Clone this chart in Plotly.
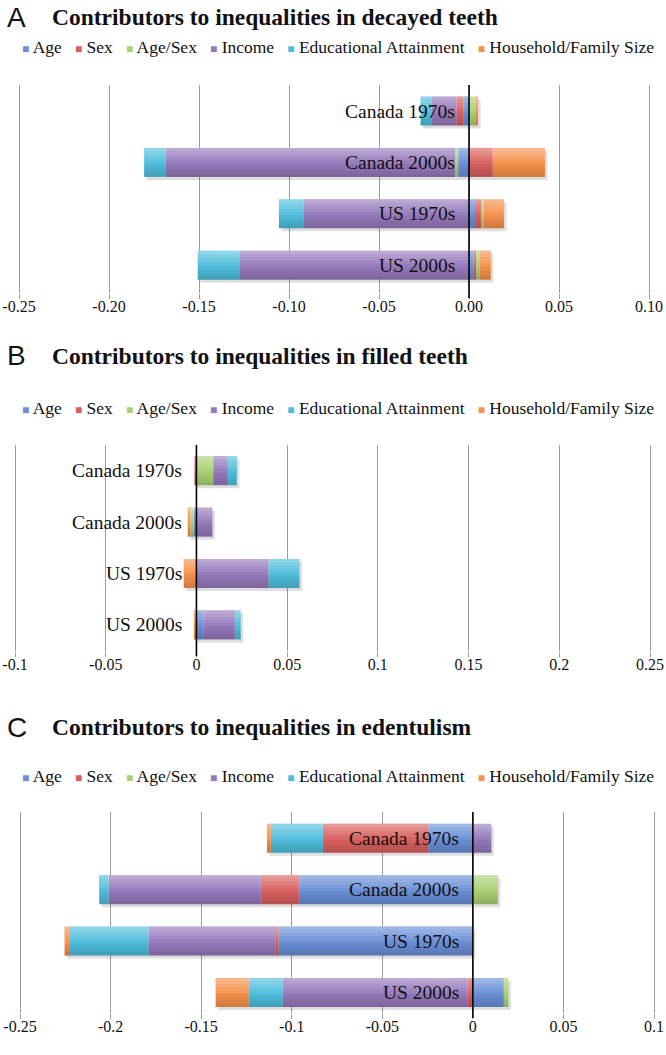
import plotly.graph_objects as go

# ---------------- data ----------------
categories = ["Canada 1970s", "Canada 2000s", "US 1970s", "US 2000s"]
series_names = ["Age", "Sex", "Age/Sex", "Income", "Educational Attainment", "Household/Family Size"]
series_colors = ["#6A8FD6", "#D9605E", "#A9D173", "#9579BB", "#4FBEDD", "#F6914C"]

# Panel A: decayed teeth
decayed_age = [-0.0030, -0.0060, 0.0033, 0.0024]
decayed_sex = [-0.0040, 0.0132, 0.0037, 0.0017]
decayed_agesex = [0.0042, -0.0018, 0.0011, 0.0020]
decayed_income = [-0.0139, -0.1607, -0.0917, -0.1276]
decayed_edu = [-0.0060, -0.0120, -0.0139, -0.0231]
decayed_household = [0.0008, 0.0290, 0.0113, 0.0060]

# Panel B: filled teeth
filled_age = [0.0, -0.0015, 0.0, 0.0040]
filled_sex = [-0.0011, 0.0, 0.0, -0.0004]
filled_agesex = [0.0093, -0.0018, 0.0004, 0.0]
filled_income = [0.0080, 0.0088, 0.0394, 0.0172]
filled_edu = [0.0050, 0.0, 0.0170, 0.0032]
filled_household = [0.0, -0.0015, -0.0070, -0.0010]

# Panel C: edentulism
edent_age = [-0.0246, -0.0961, -0.1073, 0.0171]
edent_sex = [-0.0582, -0.0210, -0.0018, -0.0030]
edent_agesex = [0.0, 0.0138, 0.0, 0.0025]
edent_income = [0.0102, -0.0840, -0.0700, -0.1020]
edent_edu = [-0.0287, -0.0052, -0.0433, -0.0188]
edent_household = [-0.0022, 0.0, -0.0030, -0.0182]

tickvals_a = [-0.25, -0.20, -0.15, -0.10, -0.05, 0.0, 0.05, 0.10]
ticktext_a = ["-0.25", "-0.20", "-0.15", "-0.10", "-0.05", "0.00", "0.05", "0.10"]
tickvals_b = [-0.1, -0.05, 0.0, 0.05, 0.1, 0.15, 0.2, 0.25]
ticktext_b = ["-0.1", "-0.05", "0", "0.05", "0.1", "0.15", "0.2", "0.25"]
tickvals_c = [-0.25, -0.2, -0.15, -0.1, -0.05, 0.0, 0.05, 0.1]
ticktext_c = ["-0.25", "-0.2", "-0.15", "-0.1", "-0.05", "0", "0.05", "0.1"]

letters = ["A", "B", "C"]
titles = [
    "Contributors to inequalities in decayed teeth",
    "Contributors to inequalities in filled teeth",
    "Contributors to inequalities in edentulism",
]

# layout positions in page pixels
panels = [
    dict(values=[decayed_age, decayed_sex, decayed_agesex, decayed_income, decayed_edu, decayed_household],
         tickvals=tickvals_a, ticktext=ticktext_a, xpx=(19, 649), ypx=(85, 293), c0=111,
         title_y=17, legend_y=47),
    dict(values=[filled_age, filled_sex, filled_agesex, filled_income, filled_edu, filled_household],
         tickvals=tickvals_b, ticktext=ticktext_b, xpx=(15, 650), ypx=(445, 651), c0=470.7,
         title_y=356, legend_y=408),
    dict(values=[edent_age, edent_sex, edent_agesex, edent_income, edent_edu, edent_household],
         tickvals=tickvals_c, ticktext=ticktext_c, xpx=(20, 654), ypx=(812, 1013), c0=838.3,
         title_y=727, legend_y=776),
]

W, H = 666, 1055
SLOT = 51.4
BARGAP = 0.436
SERIF = "Liberation Serif"
SANS = "Liberation Sans"

# vertical shading bands (top -> bottom) imitating the glossy gradient of the bars
band_colors = ["rgba(255,255,255,0.36)", "rgba(255,255,255,0.28)", "rgba(255,255,255,0.20)",
               "rgba(255,255,255,0.12)", "rgba(255,255,255,0.04)", "rgba(0,0,0,0.03)",
               "rgba(0,0,0,0.07)", "rgba(0,0,0,0.11)", "rgba(0,0,0,0.15)"]


def px_x(v):
    return v / W


def px_y(v):
    return 1 - v / H


fig = go.Figure()
annotations = []
shapes = []
layout_axes = {}

bw = 1 - BARGAP
nb = len(band_colors)
bh = bw / nb

for i, p in enumerate(panels):
    n = i + 1
    xa = "x" if n == 1 else f"x{n}"
    ya = "y" if n == 1 else f"y{n}"
    x0, x1 = p["xpx"]
    tv = p["tickvals"]
    scale = (x1 - x0) / (tv[-1] - tv[0])

    # stacking bases (positive values stack right of zero, negative ones left)
    pos_cum = [0.0] * len(categories)
    neg_cum = [0.0] * len(categories)
    stacked = []
    for vals in p["values"]:
        bases = []
        for j, v in enumerate(vals):
            if v >= 0:
                bases.append(pos_cum[j])
                pos_cum[j] += v
            else:
                bases.append(neg_cum[j])
                neg_cum[j] += v
        stacked.append(bases)
    span = [pc - nc for pc, nc in zip(pos_cum, neg_cum)]

    # soft drop shadow
    fig.add_trace(go.Bar(
        y=categories, x=span, base=[nc + 2.5 / scale for nc in neg_cum], orientation="h",
        width=bw, offset=-bw / 2 + 3 / SLOT,
        marker=dict(color="rgba(0,0,0,0.13)", line=dict(width=0)),
        xaxis=xa, yaxis=ya, showlegend=False, hoverinfo="skip",
    ))
    for name, color, vals, bases in zip(series_names, series_colors, p["values"], stacked):
        fig.add_trace(go.Bar(
            y=categories, x=vals, base=bases, orientation="h", name=name,
            width=bw, offset=-bw / 2,
            marker=dict(color=color, line=dict(width=0)),
            xaxis=xa, yaxis=ya, showlegend=False,
        ))
    for k, bc in enumerate(band_colors):
        fig.add_trace(go.Bar(
            y=categories, x=span, base=neg_cum, orientation="h",
            width=bh * 1.01, offset=-bw / 2 + k * bh,
            marker=dict(color=bc, line=dict(width=0)),
            xaxis=xa, yaxis=ya, showlegend=False, hoverinfo="skip",
        ))

    y0, y1 = p["ypx"]
    padpx = 3
    pad = padpx / scale
    layout_axes["xaxis" if n == 1 else f"xaxis{n}"] = dict(
        domain=[px_x(x0 - padpx), px_x(x1 + padpx)], anchor=ya,
        range=[tv[0] - pad, tv[-1] + pad], automargin=False,
        tickvals=tv, ticktext=p["ticktext"], showgrid=True, gridcolor="#9C9C9C",
        gridwidth=1.3, zeroline=False, showline=False, ticks="outside", ticklen=5,
        tickcolor="#9C9C9C", tickwidth=1.3, ticklabelstandoff=-6,
        ticklabeloverflow="allow",
        tickfont=dict(family=SERIF, size=16, color="#111111"),
    )
    rtop = -(p["c0"] - y0) / SLOT
    rbot = rtop + (y1 - y0) / SLOT
    layout_axes["yaxis" if n == 1 else f"yaxis{n}"] = dict(
        domain=[px_y(y1), px_y(y0)], anchor=xa, range=[rbot, rtop], automargin=False,
        showticklabels=False, showgrid=False, zeroline=False, showline=False,
        categoryorder="array", categoryarray=categories,
    )
    # zero axis line drawn above the bars
    shapes.append(dict(type="line", xref=xa, yref=f"{ya} domain", x0=0, x1=0,
                       y0=-0.025, y1=1, line=dict(color="black", width=1.6), layer="above"))
    # category labels next to the zero axis
    for c in categories:
        annotations.append(dict(x=0, y=c, xref=xa, yref=ya, text=c, showarrow=False,
                                xanchor="right", xshift=-12,
                                font=dict(family=SERIF, size=19.5, color="#111111")))
    # panel letter and title
    annotations.append(dict(x=px_x(5), y=px_y(p["title_y"]), xref="paper", yref="paper",
                            text=letters[i], showarrow=False, xanchor="left", yanchor="middle",
                            font=dict(family=SANS, size=28, color="#111111")))
    annotations.append(dict(x=px_x(50), y=px_y(p["title_y"]), xref="paper", yref="paper",
                            text=f"<b>{titles[i]}</b>", showarrow=False, xanchor="left",
                            yanchor="middle", font=dict(family=SERIF, size=23.5, color="#111111")))
    # legend row
    parts = []
    for name, color in zip(series_names, series_colors):
        parts.append(f'<span style="color:{color};font-size:12px">■</span> {name}')
    annotations.append(dict(x=px_x(338), y=px_y(p["legend_y"]), xref="paper", yref="paper",
                            text="\u00a0\u00a0\u00a0".join(parts), showarrow=False, xanchor="center",
                            yanchor="middle", font=dict(family=SERIF, size=17.5, color="#111111")))

# first drawn at a size that fits inside the default 8px page margin, then the
# margin is removed and the figure is resized to the full window
fig.update_layout(
    width=W - 16, height=H - 16, autosize=False,
    margin=dict(l=0, r=0, t=0, b=0, pad=0, autoexpand=False),
    paper_bgcolor="white", plot_bgcolor="white",
    barmode="overlay", bargap=BARGAP, showlegend=False,
    annotations=annotations, shapes=shapes, **layout_axes,
)

post = (
    "document.body.style.margin='0px';"
    "document.body.style.overflow='hidden';"
    "var gd=document.getElementById('{plot_id}');"
    f"Plotly.relayout(gd,{{width:{W},height:{H}}});"
)

fig.write_html("out.html", config={"responsive": False, "displayModeBar": False},
               post_script=post)
